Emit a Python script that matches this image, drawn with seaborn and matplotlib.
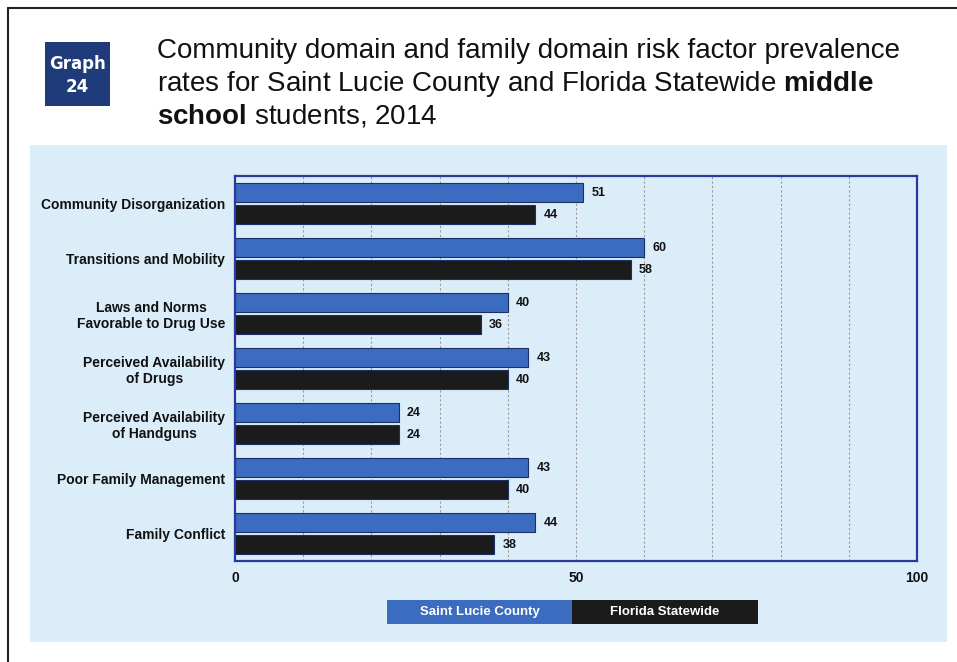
import matplotlib
matplotlib.use("Agg")
import matplotlib.pyplot as plt
import seaborn as sns
import pandas as pd
from matplotlib.patches import Rectangle
from matplotlib.lines import Line2D

categories = ["Community Disorganization", "Transitions and Mobility",
              "Laws and Norms\nFavorable to Drug Use", "Perceived Availability\nof Drugs",
              "Perceived Availability\nof Handguns", "Poor Family Management", "Family Conflict"]
saint_lucie = [51, 60, 40, 43, 24, 43, 44]
florida = [44, 58, 36, 40, 24, 40, 38]
series_names = ["Saint Lucie County", "Florida Statewide"]
x_ticks = [0, 50, 100]

sns.set_theme(style="white")
plt.rcParams['font.family'] = ['Liberation Sans', 'DejaVu Sans']
plt.rcParams['mathtext.fontset'] = 'custom'
plt.rcParams['mathtext.rm'] = 'Liberation Sans'
plt.rcParams['mathtext.bf'] = 'Liberation Sans:bold'

W, H = 957, 662
fig = plt.figure(figsize=(W / 100, H / 100), dpi=100)
fig.patch.set_facecolor("white")

def fx(x): return x / W
def fy(y): return 1 - y / H

panel_color = "#dcedfa"
blue = "#3b6cc0"
black = "#1b1b1b"

# outer border
fig.add_artist(Line2D([fx(8), fx(8)], [fy(8), fy(662)], color="#222222", lw=1.5, transform=fig.transFigure))
fig.add_artist(Line2D([fx(8), fx(957)], [fy(8), fy(8)], color="#222222", lw=1.5, transform=fig.transFigure))

# light blue panel
fig.add_artist(Rectangle((fx(30), fy(642)), fx(947 - 30), (642 - 145) / H,
                         transform=fig.transFigure, facecolor=panel_color, edgecolor="none", zorder=0))

# badge
fig.add_artist(Rectangle((fx(45), fy(106)), fx(110 - 45), (106 - 42) / H,
                         transform=fig.transFigure, facecolor="#1f3b7a", edgecolor="none"))
fig.text(fx(77.5), fy(64), "Graph", color="white", fontsize=12, fontweight="bold",
         ha="center", va="center", family=["DejaVu Sans"])
fig.text(fx(77.5), fy(87), "24", color="white", fontsize=12, fontweight="bold",
         ha="center", va="center", family=["DejaVu Sans"])

# title
tfs = 20
fig.text(fx(157), fy(51), "Community domain and family domain risk factor prevalence",
         fontsize=tfs, ha="left", va="center", color="#111111")
fig.text(fx(157), fy(84), "rates for Saint Lucie County and Florida Statewide $\\bf{middle}$",
         fontsize=tfs, ha="left", va="center", color="#111111")
fig.text(fx(157), fy(116), "$\\bf{school}$ students, 2014",
         fontsize=tfs, ha="left", va="center", color="#111111")

# data frame
rows = []
for c, a, b in zip(categories, saint_lucie, florida):
    rows.append({"category": c, "series": series_names[0], "value": a})
    rows.append({"category": c, "series": series_names[1], "value": b})
df = pd.DataFrame(rows)

ax = fig.add_axes([fx(235), fy(561), fx(917 - 235), (561 - 176) / H])
ax.set_facecolor(panel_color)
sns.barplot(data=df, y="category", x="value", hue="series", orient="h",
            palette=[blue, black], width=0.8, gap=0.15, ax=ax, legend=False,
            edgecolor="#1a2f66", linewidth=0.8, saturation=1)

ax.set_xlim(0, 100)
ax.set_ylim(len(categories) - 0.5, -0.5)
for v in range(10, 100, 10):
    ax.axvline(v, color="#9a9a9a", lw=0.8, ls=(0, (2, 2)), zorder=0)
ax.set_axisbelow(True)
for s in ax.spines.values():
    s.set_color("#2a3a9c")
    s.set_linewidth(1.6)
    s.set_visible(True)

ax.set_xticks(x_ticks)
ax.set_xticklabels([str(t) for t in x_ticks], fontsize=10, fontweight="bold", color="#111111")
ax.tick_params(axis="x", length=0, pad=7)
ax.tick_params(axis="y", length=0, pad=7)
for lbl in ax.get_yticklabels():
    lbl.set_fontsize(10)
    lbl.set_fontweight("bold")
    lbl.set_color("#111111")
    lbl.set_multialignment("center")
ax.set_xlabel("")
ax.set_ylabel("")

for cont in ax.containers:
    ax.bar_label(cont, fmt="%d", padding=6, fontsize=9, fontweight="bold", color="#111111")

# legend
fig.add_artist(Rectangle((fx(387), fy(624)), fx(572 - 387), 24 / H, transform=fig.transFigure,
                         facecolor=blue, edgecolor="none"))
fig.add_artist(Rectangle((fx(572), fy(624)), fx(758 - 572), 24 / H, transform=fig.transFigure,
                         facecolor=black, edgecolor="none"))
fig.text(fx(479.5), fy(612), series_names[0], color="white", fontsize=9.5, fontweight="bold",
         ha="center", va="center")
fig.text(fx(665), fy(612), series_names[1], color="white", fontsize=9.5, fontweight="bold",
         ha="center", va="center")

fig.savefig("out.png", dpi=100, facecolor="white")
